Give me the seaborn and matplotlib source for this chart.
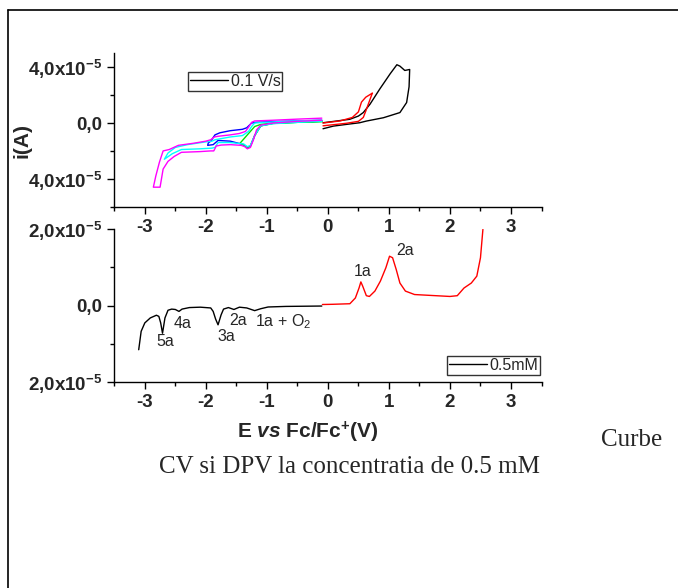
import matplotlib
matplotlib.use("Agg")
import matplotlib.pyplot as plt
from matplotlib.lines import Line2D
from matplotlib.ticker import FixedLocator, MultipleLocator
import numpy as np
import pandas as pd
import seaborn as sns

# ---- cyclic voltammetry, 0.1 V/s (potential in V, current in 1e-5 A) ----
cv_black_x = [-0.08, 0.10, 0.36, 0.50, 0.58, 0.69, 0.85, 1.02, 1.13, 1.18, 1.26, 1.34,
              1.33, 1.29, 1.18, 0.91, 0.63, 0.52, 0.30, 0.09, -0.08]
cv_black_y = [0.02, 0.12, 0.27, 0.50, 0.75, 1.35, 2.44, 3.53, 4.18, 4.08, 3.77, 3.84,
              2.60, 1.47, 0.75, 0.38, 0.14, 0.02, -0.10, -0.22, -0.41]

cv_red_x = [-0.08, 0.20, 0.40, 0.50, 0.55, 0.62, 0.73,
            0.72, 0.67, 0.62, 0.58, 0.50, 0.30, -0.08]
cv_red_y = [0.00, 0.15, 0.40, 0.80, 1.50, 1.85, 2.15,
            2.05, 1.45, 0.85, 0.40, 0.12, -0.02, -0.20]

cv_blue_x = [-0.10, -0.50, -0.90, -1.10, -1.20, -1.27, -1.32, -1.38, -1.60, -1.80, -1.88, -1.97,
             -1.96, -1.92, -1.85, -1.77, -1.60, -1.40, -1.33, -1.25, -1.17, -0.90, -0.50, -0.10]
cv_blue_y = [0.15, 0.08, -0.02, -0.20, -0.90, -1.65, -1.75, -1.55, -1.30, -1.25, -1.55, -1.60,
             -1.43, -1.30, -0.85, -0.70, -0.55, -0.45, -0.34, 0.00, 0.05, 0.10, 0.15, 0.20]

cv_green_x = [-0.10, -0.50, -0.90, -1.10, -1.20, -1.27, -1.32, -1.38, -1.44,
              -1.20, -1.10, -0.90, -0.50, -0.10]
cv_green_y = [0.10, 0.05, -0.03, -0.20, -0.90, -1.65, -1.80, -1.60, -1.45,
              -0.25, -0.10, 0.00, 0.05, 0.12]

cv_cyan_x = [-0.10, -0.50, -0.90, -1.10, -1.20, -1.27, -1.32, -1.38, -1.60, -1.80, -1.85, -1.90,
             -2.10, -2.40, -2.55, -2.68,
             -2.62, -2.50, -2.30, -2.00, -1.90, -1.85, -1.60, -1.40, -1.30, -1.25, -1.20,
             -0.90, -0.50, -0.10]
cv_cyan_y = [0.12, 0.05, -0.05, -0.20, -0.90, -1.60, -1.70, -1.50, -1.40, -1.40, -1.75, -1.80,
             -1.85, -1.90, -2.20, -2.60,
             -2.15, -1.75, -1.55, -1.35, -1.30, -1.20, -1.00, -0.90, -0.60, -0.25, 0.00,
             0.08, 0.15, 0.20]

cv_magenta_x = [-0.10, -0.50, -0.90, -1.10, -1.17, -1.22, -1.27, -1.32, -1.36, -1.42, -1.60, -1.75,
                -1.83, -1.87, -1.92, -2.10, -2.40, -2.52, -2.62, -2.70, -2.75, -2.86,
                -2.82, -2.76, -2.70, -2.60, -2.45, -2.20, -2.00, -1.92, -1.86, -1.80, -1.60,
                -1.45, -1.35, -1.30, -1.25, -1.20, -0.90, -0.50, -0.10]
cv_magenta_y = [0.20, 0.12, 0.00, -0.15, -0.50, -1.20, -1.75, -1.85, -1.70, -1.60, -1.55, -1.58,
                -1.65, -2.00, -2.00, -2.05, -2.10, -2.40, -2.75, -3.30, -4.60, -4.60,
                -3.80, -2.80, -2.00, -1.90, -1.60, -1.45, -1.30, -1.20, -1.00, -0.95, -0.85,
                -0.75, -0.60, -0.30, 0.05, 0.15, 0.20, 0.28, 0.35]

# ---- differential pulse voltammetry, 0.5 mM (current in 1e-5 A) ----
dpv_cath_x = [-3.10, -3.06, -3.00, -2.91, -2.81, -2.77, -2.74, -2.71, -2.67, -2.62, -2.56,
              -2.50, -2.44, -2.39, -2.27, -2.09, -1.92, -1.88, -1.84, -1.80, -1.75, -1.71,
              -1.63, -1.54, -1.45, -1.33, -1.20, -1.10, -0.98, -0.69, -0.10]
dpv_cath_y = [-1.15, -0.67, -0.45, -0.32, -0.25, -0.28, -0.45, -0.72, -0.32, -0.12, -0.09,
              -0.10, -0.15, -0.09, -0.05, -0.04, -0.06, -0.15, -0.35, -0.50, -0.24, -0.09,
              -0.05, -0.10, -0.04, -0.06, -0.13, -0.08, -0.035, -0.02, -0.01]

dpv_anod_x = [-0.09, 0.07, 0.36, 0.45, 0.51, 0.54, 0.57, 0.63, 0.68, 0.77, 0.86, 0.95,
              1.01, 1.06, 1.12, 1.18, 1.27, 1.42, 1.65, 2.00, 2.12, 2.23, 2.35, 2.44,
              2.50, 2.54]
dpv_anod_y = [0.03, 0.035, 0.05, 0.20, 0.46, 0.62, 0.51, 0.26, 0.24, 0.38, 0.64, 0.99,
              1.29, 1.25, 0.94, 0.59, 0.38, 0.29, 0.27, 0.24, 0.26, 0.46, 0.59, 0.77,
              1.25, 1.99]

dpv_peak_labels = ["1a", "2a", "5a", "4a", "3a", "2a", "1a + O$_2$"]
dpv_peak_label_x = [0.57, 1.27, -2.67, -2.38, -1.66, -1.48, -0.73]
dpv_peak_label_y = [0.88, 1.45, -0.94, -0.46, -0.81, -0.38, -0.42]

SCALE = 1e-5

sns.set_style("ticks")
plt.rcParams["font.family"] = ["Liberation Sans", "DejaVu Sans"]
plt.rcParams["mathtext.fontset"] = "custom"
plt.rcParams["mathtext.rm"] = "Liberation Sans"
plt.rcParams["mathtext.bf"] = "Liberation Sans:bold"
plt.rcParams["mathtext.it"] = "Liberation Sans:italic"
plt.rcParams["mathtext.bfit"] = "Liberation Sans:italic:bold"

W, H = 678, 588
fig = plt.figure(figsize=(W / 100, H / 100), dpi=100)
fig.patch.set_facecolor("white")


def frac_box(left, top, right, bottom):
    return [left / W, 1 - bottom / H, (right - left) / W, (bottom - top) / H]


ax_cv = fig.add_axes(frac_box(114.3, 53.3, 541.5, 206.7))
ax_dpv = fig.add_axes(frac_box(114.3, 229.0, 541.5, 382.3))


def curve(x, y):
    return pd.DataFrame({"E": x, "i": np.asarray(y) * SCALE})


lw = 1.0
cv_series = [
    (cv_black_x, cv_black_y, "black", "0.1 V/s"),
    (cv_red_x, cv_red_y, "#ff0000", None),
    (cv_blue_x, cv_blue_y, "#0000ff", None),
    (cv_green_x, cv_green_y, "#00e000", None),
    (cv_cyan_x, cv_cyan_y, "#00ffff", None),
    (cv_magenta_x, cv_magenta_y, "#ff00ff", None),
]
for xs, ys, col, lab in cv_series:
    sns.lineplot(data=curve(xs, ys), x="E", y="i", sort=False, estimator=None,
                 color=col, lw=lw, ax=ax_cv, label=lab, legend=False)

sns.lineplot(data=curve(dpv_cath_x, dpv_cath_y), x="E", y="i", sort=False,
             estimator=None, color="black", lw=lw, ax=ax_dpv, label="0.5mM", legend=False)
sns.lineplot(data=curve(dpv_anod_x, dpv_anod_y), x="E", y="i", sort=False,
             estimator=None, color="#ff0000", lw=lw, ax=ax_dpv, legend=False)

for txt, lx, ly in zip(dpv_peak_labels, dpv_peak_label_x, dpv_peak_label_y):
    ax_dpv.text(lx, ly * SCALE, txt, ha="center", va="center", fontsize=11.5)

sup = "10$^{\\mathbf{-5}}$"
for ax, ylim, yt, ylab, ymin in [
    (ax_cv, (-6.0e-5, 5.0e-5), [-4e-5, 0, 4e-5], ["4,0x" + sup, "0,0", "4,0x" + sup], 2e-5),
    (ax_dpv, (-2.0e-5, 2.0e-5), [-2e-5, 0, 2e-5], ["2,0x" + sup, "0,0", "2,0x" + sup], 1e-5),
]:
    ax.set_xlim(-3.5, 3.5)
    ax.set_ylim(*ylim)
    ax.set_xticks([-3, -2, -1, 0, 1, 2, 3])
    ax.set_xticklabels(["-3", "-2", "-1", "0", "1", "2", "3"])
    ax.xaxis.set_minor_locator(MultipleLocator(0.5))
    ax.yaxis.set_major_locator(FixedLocator(yt))
    ax.set_yticklabels(ylab)
    ax.yaxis.set_minor_locator(MultipleLocator(ymin))
    ax.set_xlabel("")
    ax.set_ylabel("")
    for s in ["top", "right"]:
        ax.spines[s].set_visible(False)
    for s in ["left", "bottom"]:
        ax.spines[s].set_linewidth(1.0)
        ax.spines[s].set_color("black")
    ax.tick_params(which="major", direction="out", length=5, width=1, color="black",
                   labelsize=13.5, pad=3.5)
    ax.tick_params(which="minor", direction="out", length=3, width=1, color="black")
    for t in ax.get_xticklabels() + ax.get_yticklabels():
        t.set_fontweight("bold")
    ax.set_facecolor("none")

leg_kw = dict(frameon=True, fancybox=False, shadow=False, fontsize=11.5, handlelength=2.4,
              handletextpad=0.15, borderpad=0.12, borderaxespad=0)
leg1 = ax_cv.legend(loc="upper left", bbox_to_anchor=(0.1725, 0.878), **leg_kw)
leg2 = ax_dpv.legend(loc="lower right", bbox_to_anchor=(0.997, 0.048), **leg_kw)
for lg in (leg1, leg2):
    lg.get_frame().set_edgecolor("black")
    lg.get_frame().set_linewidth(1.0)

fig.text(22 / W, 1 - 140 / H, "i(A)", rotation=90, ha="center", va="center",
         fontsize=15, fontweight="bold")
fig.text(308 / W, 1 - 432 / H, "E $\\mathbfit{vs}$ Fc/Fc$^{\\mathbf{+}}$(V)",
         ha="center", va="center", fontsize=15, fontweight="bold")
fig.text(632 / W, 1 - 440 / H, "Curbe", ha="center", va="center", fontsize=18,
         family="Liberation Serif")
fig.text(350 / W, 1 - 467 / H, "CV si DPV la concentratia de 0.5 mM", ha="center",
         va="center", fontsize=18, family="Liberation Serif")

# page frame
fig.add_artist(Line2D([8 / W, 1.0], [1 - 10 / H, 1 - 10 / H], color="black", lw=1.2,
                      transform=fig.transFigure))
fig.add_artist(Line2D([8 / W, 8 / W], [0.0, 1 - 10 / H], color="black", lw=1.2,
                      transform=fig.transFigure))

fig.savefig("out.png", dpi=100, facecolor="white")
